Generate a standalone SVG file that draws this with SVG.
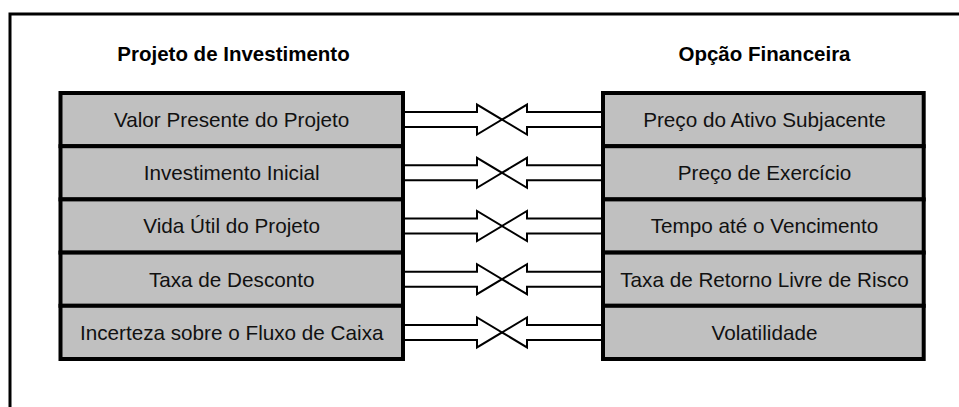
<svg xmlns="http://www.w3.org/2000/svg" xmlns:xlink="http://www.w3.org/1999/xlink" width="959" height="407" viewBox="0 0 959 407">
<style>
.frame{fill:none;stroke:#000;stroke-width:3}
.box{fill:#C0C0C0;stroke:#000;stroke-width:4}
.arrow{fill:#fff;stroke:#000;stroke-width:2;stroke-linejoin:miter}
.hdr{font-family:"Liberation Sans",Arial,sans-serif;font-weight:bold;font-size:20.5px;fill:#000;text-anchor:middle}
.lbl{font-family:"Liberation Sans",Arial,sans-serif;font-size:20.7px;fill:#111;text-anchor:middle}
</style>
<defs>
<g id="pair">
<polygon class="arrow" points="403,-7.5 477,-7.5 477,-15 502,0 477,15 477,7.5 403,7.5"/>
<polygon class="arrow" points="603,-7.5 527,-7.5 527,-15 502,0 527,15 527,7.5 603,7.5"/>
</g>
</defs>
<rect width="959" height="407" fill="#fff"/>
<rect class="frame" x="10" y="14" width="1000" height="450"/>
<text class="hdr" x="233.5" y="61">Projeto de Investimento</text>
<text class="hdr" x="764.5" y="61">Opção Financeira</text>
<g id="connectors">
<use xlink:href="#pair" href="#pair" transform="translate(0,119.6)"/>
<use xlink:href="#pair" href="#pair" transform="translate(0,172.8)"/>
<use xlink:href="#pair" href="#pair" transform="translate(0,226)"/>
<use xlink:href="#pair" href="#pair" transform="translate(0,279.2)"/>
<use xlink:href="#pair" href="#pair" transform="translate(0,332.4)"/>
</g>
<g id="left1"><rect class="box" x="60.5" y="93" width="342.5" height="53.2"/><text class="lbl" x="231.7" y="127">Valor Presente do Projeto</text></g>
<g id="left2"><rect class="box" x="60.5" y="146.2" width="342.5" height="53.2"/><text class="lbl" x="231.7" y="180.2">Investimento Inicial</text></g>
<g id="left3"><rect class="box" x="60.5" y="199.4" width="342.5" height="53.2"/><text class="lbl" x="231.7" y="233.4">Vida Útil do Projeto</text></g>
<g id="left4"><rect class="box" x="60.5" y="252.6" width="342.5" height="53.2"/><text class="lbl" x="231.7" y="286.6">Taxa de Desconto</text></g>
<g id="left5"><rect class="box" x="60.5" y="305.8" width="342.5" height="53.2"/><text class="lbl" x="231.7" y="339.8">Incerteza sobre o Fluxo de Caixa</text></g>
<g id="right1"><rect class="box" x="603" y="93" width="320.7" height="53.2"/><text class="lbl" x="764.5" y="127">Preço do Ativo Subjacente</text></g>
<g id="right2"><rect class="box" x="603" y="146.2" width="320.7" height="53.2"/><text class="lbl" x="764.5" y="180.2">Preço de Exercício</text></g>
<g id="right3"><rect class="box" x="603" y="199.4" width="320.7" height="53.2"/><text class="lbl" x="764.5" y="233.4">Tempo até o Vencimento</text></g>
<g id="right4"><rect class="box" x="603" y="252.6" width="320.7" height="53.2"/><text class="lbl" x="764.5" y="286.6">Taxa de Retorno Livre de Risco</text></g>
<g id="right5"><rect class="box" x="603" y="305.8" width="320.7" height="53.2"/><text class="lbl" x="764.5" y="339.8">Volatilidade</text></g>
</svg>
